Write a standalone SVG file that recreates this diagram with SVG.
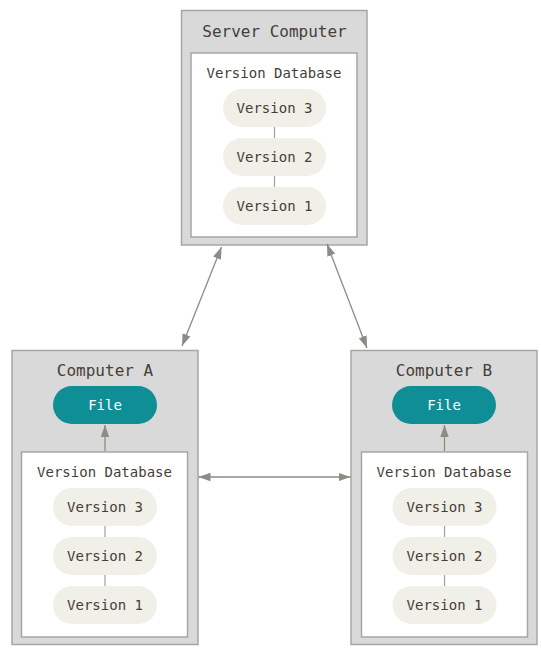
<svg xmlns="http://www.w3.org/2000/svg" width="541" height="652" viewBox="0 0 541 652">
<defs>
<style>
.outer{fill:#d9d9d9;stroke:#a6a6a6;stroke-width:1.5}
.inner{fill:#ffffff;stroke:#a6a6a6;stroke-width:1.5}
.pill{fill:#f0efe8}
.file{fill:#0f8e96}
.t{font-family:"DejaVu Sans Mono","Liberation Mono",monospace;fill:#463e38;text-anchor:middle;dominant-baseline:central}
.title{font-size:16px}
.lbl{font-size:14px}
.ft{font-size:14px;fill:#ffffff}
.link{stroke:#a6a29c;stroke-width:1.2;fill:none}
.arr{stroke:#8e8a84;stroke-width:1.3;fill:none}
</style>
<marker id="ah" viewBox="0 0 12 10" refX="12" refY="5" markerWidth="12" markerHeight="10" markerUnits="userSpaceOnUse" orient="auto-start-reverse">
<path d="M0,0.8 L12,5 L0,9.2 Z" fill="#8e8a84"/>
</marker>
</defs>
<g id="server">
<rect class="outer" x="181.5" y="10.5" width="185.5" height="234.5"/>
<text class="t title" x="274.5" y="31">Server Computer</text>
<rect class="inner" x="191" y="53" width="166" height="184"/>
<text class="t lbl" x="274" y="73">Version Database</text>
<line class="link" x1="274.5" y1="127" x2="274.5" y2="138"/>
<line class="link" x1="274.5" y1="176" x2="274.5" y2="187"/>
<rect class="pill" x="223" y="89" width="103" height="38" rx="19"/>
<text class="t lbl" x="274.5" y="108">Version 3</text>
<rect class="pill" x="223" y="138" width="103" height="38" rx="19"/>
<text class="t lbl" x="274.5" y="157">Version 2</text>
<rect class="pill" x="223" y="187" width="103" height="38" rx="19"/>
<text class="t lbl" x="274.5" y="206">Version 1</text>
</g>
<g id="computerA">
<rect class="outer" x="12" y="350.5" width="186" height="294"/>
<text class="t title" x="105" y="370">Computer A</text>
<rect class="file" x="53" y="386" width="104" height="38" rx="19"/>
<text class="t ft" x="105" y="405">File</text>
<rect class="inner" x="21.5" y="452" width="166" height="185"/>
<text class="t lbl" x="104.5" y="472">Version Database</text>
<line class="link" x1="105" y1="526" x2="105" y2="537"/>
<line class="link" x1="105" y1="575" x2="105" y2="586"/>
<rect class="pill" x="53" y="488" width="104" height="38" rx="19"/>
<text class="t lbl" x="105" y="507">Version 3</text>
<rect class="pill" x="53" y="537" width="104" height="38" rx="19"/>
<text class="t lbl" x="105" y="556">Version 2</text>
<rect class="pill" x="53" y="586" width="104" height="38" rx="19"/>
<text class="t lbl" x="105" y="605">Version 1</text>
</g>
<g id="computerB">
<rect class="outer" x="351" y="350.5" width="186" height="294"/>
<text class="t title" x="444" y="370">Computer B</text>
<rect class="file" x="392" y="386" width="104" height="38" rx="19"/>
<text class="t ft" x="444" y="405">File</text>
<rect class="inner" x="361.5" y="452" width="166" height="185"/>
<text class="t lbl" x="444" y="472">Version Database</text>
<line class="link" x1="444.5" y1="526" x2="444.5" y2="537"/>
<line class="link" x1="444.5" y1="575" x2="444.5" y2="586"/>
<rect class="pill" x="392.5" y="488" width="104" height="38" rx="19"/>
<text class="t lbl" x="444.5" y="507">Version 3</text>
<rect class="pill" x="392.5" y="537" width="104" height="38" rx="19"/>
<text class="t lbl" x="444.5" y="556">Version 2</text>
<rect class="pill" x="392.5" y="586" width="104" height="38" rx="19"/>
<text class="t lbl" x="444.5" y="605">Version 1</text>
</g>
<g id="connectors">
<line class="arr" x1="221.5" y1="247" x2="182" y2="346" marker-start="url(#ah)" marker-end="url(#ah)"/>
<line class="arr" x1="327" y1="244" x2="367" y2="348" marker-start="url(#ah)" marker-end="url(#ah)"/>
<line class="arr" x1="198.5" y1="477" x2="350.5" y2="477" marker-start="url(#ah)" marker-end="url(#ah)"/>
<line class="arr" x1="105" y1="451" x2="105" y2="425" marker-end="url(#ah)"/>
<line class="arr" x1="444.5" y1="451" x2="444.5" y2="425" marker-end="url(#ah)"/>
</g>
</svg>
